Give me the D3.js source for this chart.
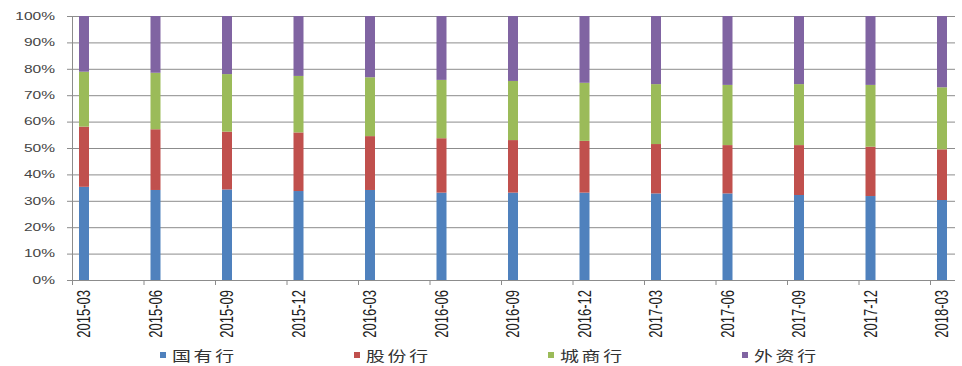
<!DOCTYPE html>
<html>
<head>
  <meta charset="utf-8">
  <title>Bank share stacked bars</title>
</head>
<style>
  body { margin: 0; background: #fff; }
  text { font-family: "Liberation Sans", Arial, sans-serif; }
  .cjk { font-family: "Noto Sans CJK SC", sans-serif; }
</style>
<body>
  <script src="https://d3js.org/d3.v7.min.js"></script>
  <script>
    // quarters on the x axis
    const categories = ["2015-03", "2015-06", "2015-09", "2015-12", "2016-03", "2016-06",
      "2016-09", "2016-12", "2017-03", "2017-06", "2017-09", "2017-12", "2018-03"];
    const seriesNames = ["国有行", "股份行", "城商行", "外资行"];
    // share of each bank group, %
    const soe     = [35.3, 34.1, 34.3, 33.7, 34.1, 33.1, 33.1, 33.1, 32.8, 32.8, 32.2, 31.8, 30.3];
    const joint   = [22.8, 23.0, 21.9, 22.2, 20.4, 20.6, 19.9, 19.6, 18.7, 18.3, 18.9, 18.7, 19.2];
    const city    = [20.8, 21.4, 21.8, 21.4, 22.3, 22.1, 22.4, 22.0, 22.7, 22.8, 23.1, 23.4, 23.5];
    const foreign = [21.1, 21.5, 22.0, 22.7, 23.2, 24.2, 24.6, 25.3, 25.8, 26.1, 25.8, 26.1, 27.0];
    const yTicks = [0, 10, 20, 30, 40, 50, 60, 70, 80, 90, 100];

    const colors = ["#4f81bd", "#c0504d", "#9bbb59", "#8064a2"];
    const w = 962, h = 366;
    const plotLeft = 72, plotTop = 16, plotBottom = 280, gridRight = 955;
    const band = 71.5, barOff = 7, barW = 10;
    const sx = 1.35; // the picture is stretched sideways

    const rows = categories.map((c, i) => ({
      cat: c, "国有行": soe[i], "股份行": joint[i], "城商行": city[i], "外资行": foreign[i]
    }));
    const stacked = d3.stack().keys(seriesNames)(rows);

    const x = d3.scaleBand().domain(categories).range([plotLeft, plotLeft + band * categories.length]);
    const y = d3.scaleLinear().domain([0, 100]).range([plotBottom, plotTop]);

    const svg = d3.select("body").append("svg")
      .attr("width", w).attr("height", h);

    // grid
    svg.append("g").selectAll("line").data(yTicks).join("line")
      .attr("x1", plotLeft).attr("x2", gridRight)
      .attr("y1", d => y(d) + 0.5).attr("y2", d => y(d) + 0.5)
      .attr("stroke", "#8c8c8c").attr("stroke-width", 1);

    // y axis
    svg.append("line").attr("x1", plotLeft + 0.5).attr("x2", plotLeft + 0.5)
      .attr("y1", plotTop).attr("y2", plotBottom).attr("stroke", "#8c8c8c");
    svg.append("g").selectAll("line").data(yTicks).join("line")
      .attr("x1", plotLeft - 5).attr("x2", plotLeft)
      .attr("y1", d => y(d) + 0.5).attr("y2", d => y(d) + 0.5)
      .attr("stroke", "#8c8c8c");
    svg.append("g").selectAll("text").data(yTicks).join("text")
      .attr("transform", d => "translate(" + (plotLeft - 17) + "," + y(d) + ") scale(" + sx + ",1)")
      .attr("text-anchor", "end").attr("dominant-baseline", "central")
      .attr("font-size", 11.5).attr("fill", "#444")
      .text(d => d + "%");

    // bars
    svg.append("g").selectAll("g").data(stacked).join("g")
      .attr("fill", (d, i) => colors[i])
      .selectAll("rect").data(d => d).join("rect")
        .attr("x", d => x(d.data.cat) + barOff)
        .attr("width", barW)
        .attr("y", d => y(d[1]))
        .attr("height", d => y(d[0]) - y(d[1]));

    // x axis
    svg.append("line").attr("x1", plotLeft).attr("x2", gridRight)
      .attr("y1", plotBottom + 0.5).attr("y2", plotBottom + 0.5).attr("stroke", "#8c8c8c");
    svg.append("g").selectAll("line").data(categories).join("line")
      .attr("x1", d => x(d) + 0.5).attr("x2", d => x(d) + 0.5)
      .attr("y1", plotBottom).attr("y2", plotBottom + 5)
      .attr("stroke", "#8c8c8c");
    svg.append("g").selectAll("text").data(categories).join("text")
      .attr("transform", d => "translate(" + (x(d) + barOff + barW / 2) + "," + (plotBottom + 10) +
        ") scale(" + sx + ",1) rotate(-90)")
      .attr("text-anchor", "end").attr("dominant-baseline", "central")
      .attr("font-size", 13).attr("fill", "#222")
      .text(d => d);

    // legend
    const lg = svg.append("g").selectAll("g").data(seriesNames).join("g")
      .attr("transform", (d, i) => "translate(" + (160 + i * 194) + ",355)");
    lg.append("rect").attr("x", 0).attr("y", -3).attr("width", 6).attr("height", 6)
      .attr("fill", (d, i) => colors[i]);
    lg.append("text").attr("class", "cjk")
      .attr("transform", "translate(12,0) scale(" + sx + ",1)")
      .attr("dominant-baseline", "central")
      .attr("font-size", 14).attr("letter-spacing", 2).attr("fill", "#333")
      .text(d => d);
  </script>
</body>
</html>
